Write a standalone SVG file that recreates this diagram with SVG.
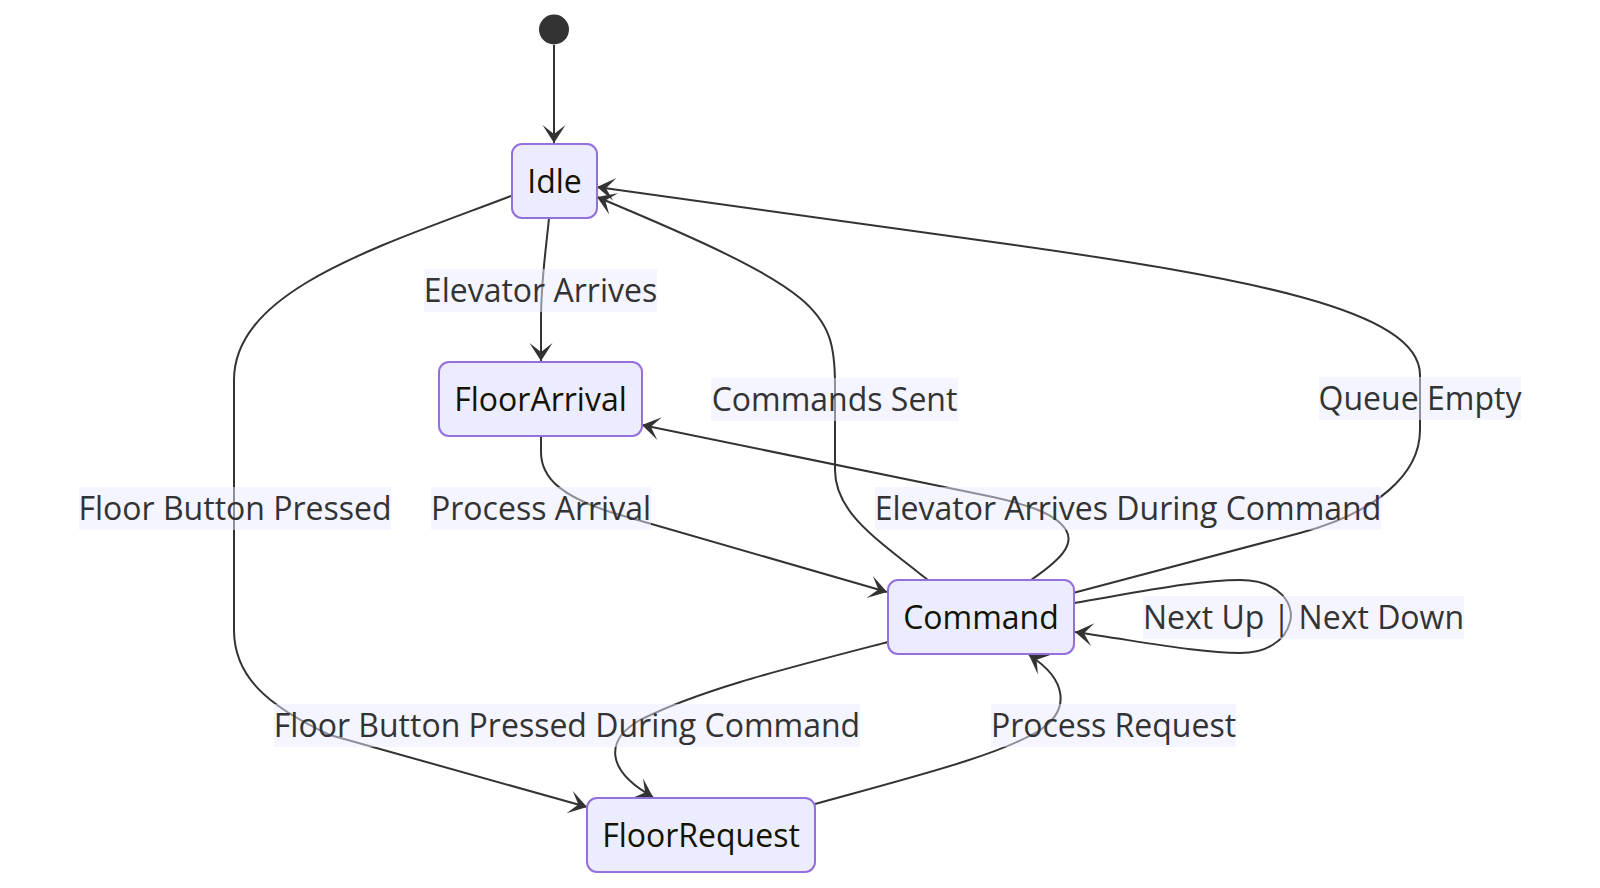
<svg xmlns="http://www.w3.org/2000/svg" width="1600" height="888" viewBox="0 0 1600 888">
<style>
.node rect{fill:#ECECFF;stroke:#9370DB;stroke-width:2}
.node text{font-family:"Open Sans","Noto Sans","Liberation Sans",sans-serif;font-size:32px;fill:#131300;text-anchor:middle}
.edge{fill:none;stroke:#333;stroke-width:2;marker-end:url(#arrow)}
.lbl rect{fill:#ECECFF;opacity:0.5}
.lbl text{font-family:"Open Sans","Noto Sans","Liberation Sans",sans-serif;font-size:32px;fill:#333;text-anchor:middle}
</style>
<defs>
<marker id="arrow" markerUnits="userSpaceOnUse" markerWidth="22" markerHeight="26" viewBox="-20 -13 22 26" refX="0" refY="0" orient="auto">
<path d="M0,0 L-18,-11.5 L-9,0 L-18,11.5 Z" fill="#333"/>
</marker>
</defs>
<g id="connectors">
<path class="edge" d="M554,45 L554,143"/>
<path class="edge" d="M549,218 C546,250 541,280 541,320 L541,361"/>
<path class="edge" d="M511,196 C380,246 234,290 234,380 L234,630 C234,675 265,705 330,735 L587,807"/>
<path class="edge" d="M541,436 L541,452 C541,480 565,497 610,512 L887,592"/>
<path class="edge" d="M1031,580 C1060,560 1075,545 1066,530 C1055,512 1020,503 993,497 L642,425"/>
<path class="edge" d="M928,580 C870,535 835,510 835,470 L835,385 C835,310 820,290 597,197"/>
<path class="edge" d="M1073,593 L1300,533 C1375,513 1420,475 1420,430 L1420,375 C1420,310 1250,278 1000,243 L597,187"/>
<path class="edge" d="M1074,603 C1150,590 1200,580 1240,580 C1280,580 1295,605 1290,622 C1285,642 1265,653 1240,653 C1200,653 1150,643 1075,632"/>
<path class="edge" d="M888,642 C780,670 700,690 640,720 C605,740 605,770 653,797"/>
<path class="edge" d="M815,804 C920,775 1000,755 1040,730 C1070,710 1068,680 1029,655"/>
<g class="lbl">
<rect x="424" y="269" width="233" height="43"/><text x="540.5" y="302">Elevator Arrives</text>
<rect x="711" y="378" width="247" height="43"/><text x="834.5" y="411">Commands Sent</text>
<rect x="1319" y="377" width="202" height="43"/><text x="1420" y="410">Queue Empty</text>
<rect x="79" y="487" width="312" height="43"/><text x="235" y="520">Floor Button Pressed</text>
<rect x="431" y="487" width="220" height="43"/><text x="541" y="520">Process Arrival</text>
<rect x="875" y="487" width="506" height="43"/><text x="1128" y="520">Elevator Arrives During Command</text>
<rect x="1143" y="596" width="321" height="43"/><text x="1303.5" y="629">Next Up | Next Down</text>
<rect x="274" y="704" width="586" height="43"/><text x="567" y="737">Floor Button Pressed During Command</text>
<rect x="991" y="704" width="245" height="43"/><text x="1113.5" y="737">Process Request</text>
</g>
</g>
<g id="start"><circle cx="554" cy="29.5" r="15" fill="#333"/></g>
<g id="Idle" class="node"><rect x="512" y="144" width="85" height="74" rx="10"/><text x="554.5" y="192.5">Idle</text></g>
<g id="FloorArrival" class="node"><rect x="439" y="362" width="203" height="74" rx="10"/><text x="540.5" y="410.5">FloorArrival</text></g>
<g id="Command" class="node"><rect x="888" y="580" width="186" height="74" rx="10"/><text x="981" y="628.5">Command</text></g>
<g id="FloorRequest" class="node"><rect x="587" y="798" width="228" height="74" rx="10"/><text x="701" y="846.5">FloorRequest</text></g>
</svg>
